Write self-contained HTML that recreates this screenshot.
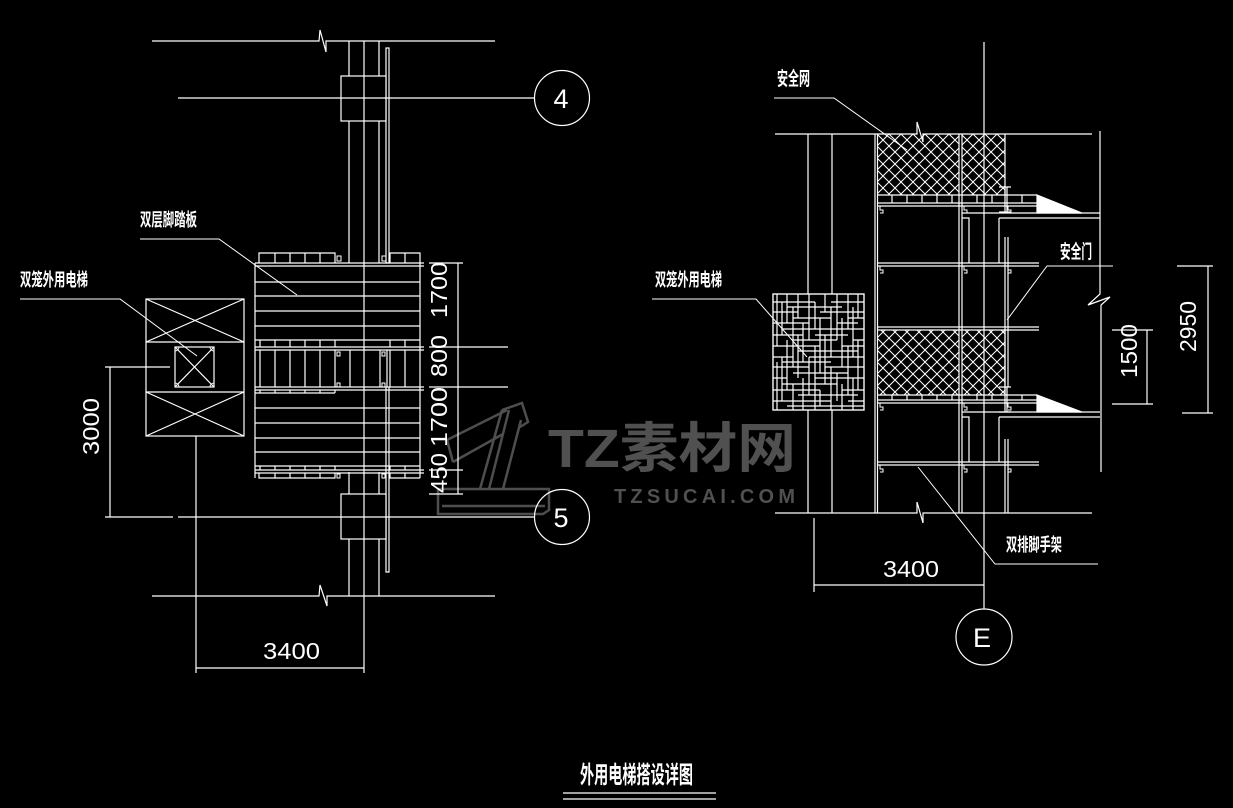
<!DOCTYPE html>
<html><head><meta charset="utf-8"><style>
html,body{margin:0;padding:0;background:#000;}
svg{display:block;}
.c{font-family:"Liberation Sans","Noto Sans CJK SC",sans-serif;font-weight:bold;fill:#fff;}
.n{font-family:"Liberation Sans",sans-serif;fill:#fff;}
</style></head><body>
<svg width="1233" height="808" viewBox="0 0 1233 808" xmlns="http://www.w3.org/2000/svg">
<defs>
<pattern id="net" patternUnits="userSpaceOnUse" width="12" height="12" x="877" y="134">
<path d="M0,0L12,12M12,0L0,12" stroke="#fff" stroke-width="1" fill="none"/>
</pattern>
</defs>
<rect width="1233" height="808" fill="#000"/>

<!-- watermark -->
<g stroke="#4e4e4e" stroke-width="2.5" fill="none">
<path d="M438,489H549V510L543,514H438Z"/>
<path d="M442,506H545"/>
<path d="M480,489L502,410M489,489L509,410M503,489L521,420"/>
<path d="M502,410L522,403L528,422L520,427"/>
<path d="M447,440L507,410M453,462L503,434M447,440L453,462"/>
</g>
<text x="548" y="467" font-family="Liberation Sans,'Noto Sans CJK SC',sans-serif" font-weight="bold" font-size="54" fill="#505050" textLength="248" lengthAdjust="spacingAndGlyphs">TZ素材网</text>
<text x="614" y="503" font-family="Liberation Sans,sans-serif" font-weight="bold" font-size="20" fill="#505050" textLength="181" lengthAdjust="spacing">TZSUCAI.COM</text>

<g stroke="#fff" stroke-width="1.2" fill="none">
<!-- ===== LEFT PLAN ===== -->
<polyline points="152,41 319,41 320,30 326,52 326,41 495,41"/>
<polyline points="152,596 319,596 320,585 327,606 327,596 495,596"/>
<line x1="178" y1="98" x2="535" y2="98"/>
<line x1="178" y1="517" x2="535" y2="517"/>
<circle cx="562" cy="98" r="27.5"/>
<circle cx="562" cy="517" r="27.5"/>
<!-- column -->
<line x1="364" y1="41" x2="364" y2="673"/>
<line x1="349" y1="41" x2="349" y2="263"/>
<line x1="379" y1="41" x2="379" y2="263"/>
<line x1="349" y1="472" x2="349" y2="596"/>
<line x1="379" y1="472" x2="379" y2="596"/>
<rect x="386" y="48" width="3" height="215"/>
<path d="M386,387V572H389V387"/>
<rect x="341" y="76" width="45" height="45" fill="#000"/>
<line x1="364" y1="76" x2="364" y2="121"/>
<line x1="341" y1="98" x2="386" y2="98"/>
<rect x="341" y="494" width="45" height="45" fill="#000"/>
<line x1="364" y1="494" x2="364" y2="539"/>
<line x1="341" y1="517" x2="386" y2="517"/>
<!-- platform -->
<path d="M259,263V253H335V263M275,253V263M290,253V263M305,253V263M320,253V263"/>
<path d="M390,263V253H420V263M405,253V263"/>
<line x1="255" y1="263" x2="424" y2="263"/><line x1="255" y1="266" x2="424" y2="266"/>
<line x1="255" y1="263" x2="255" y2="478"/><line x1="420" y1="263" x2="420" y2="478"/>
<line x1="255" y1="282" x2="420" y2="282"/>
<line x1="255" y1="296" x2="420" y2="296"/>
<line x1="255" y1="311" x2="420" y2="311"/>
<line x1="255" y1="326" x2="420" y2="326"/>
<line x1="255" y1="340" x2="420" y2="340"/>
<path d="M260,340V347M275,340V347M290,340V347M305,340V347M320,340V347M335,340V347M390,340V347M405,340V347"/>
<line x1="255" y1="347" x2="424" y2="347"/><line x1="255" y1="350" x2="424" y2="350"/>
<path d="M260,350V387M275,350V387M290,350V387M305,350V387M320,350V387M335,350V387M350,350V387M380,350V387M387,350V387M390,350V387M405,350V387"/>
<line x1="255" y1="387" x2="424" y2="387"/><line x1="255" y1="390" x2="424" y2="390"/>
<path d="M255,393H335M260,390V393M275,390V393M290,390V393M305,390V393M320,390V393M335,390V393"/>
<line x1="255" y1="408" x2="420" y2="408"/>
<line x1="255" y1="423" x2="420" y2="423"/>
<line x1="255" y1="438" x2="420" y2="438"/>
<line x1="255" y1="452" x2="420" y2="452"/>
<line x1="255" y1="466" x2="420" y2="466"/>
<path d="M260,466V470M275,466V470M290,466V470M305,466V470M320,466V470M335,466V470M390,466V470M405,466V470"/>
<line x1="255" y1="470" x2="424" y2="470"/><line x1="255" y1="473" x2="424" y2="473"/>
<path d="M259,473V478H335V473M275,473V478M290,473V478M305,473V478M320,473V478"/>
<path d="M390,473V478H420M405,473V478"/>
<!-- hooks -->
<path d="M337,256h4v5h-4zM382,256h4v5h-4zM337,352h3v4h-3zM382,352h3v4h-3zM337,383h3v4h-3zM382,383h3v4h-3zM337,474h3v4h-3zM382,474h3v4h-3z" stroke-width="1"/>
<!-- right dims -->
<line x1="458" y1="263" x2="458" y2="494"/>
<line x1="429" y1="263" x2="463" y2="263"/>
<line x1="429" y1="347" x2="508" y2="347"/>
<line x1="429" y1="387" x2="508" y2="387"/>
<line x1="429" y1="470" x2="463" y2="470"/>
<line x1="429" y1="494" x2="463" y2="494"/>
<!-- elevator plan -->
<rect x="146" y="299" width="98" height="137"/>
<line x1="146" y1="342" x2="244" y2="342"/>
<line x1="146" y1="392" x2="244" y2="392"/>
<path d="M146,299L244,342M146,342L244,299M146,392L244,436M146,436L244,392"/>
<rect x="175" y="347" width="39" height="40"/>
<path d="M175,347L214,387M214,347L175,387"/>
<path d="M175,351a4,4 0 0 0 4,-4M210,347a4,4 0 0 0 4,4M214,383a4,4 0 0 0 -4,4M179,387a4,4 0 0 0 -4,-4" stroke-width="1"/>
<!-- 3000 dim -->
<line x1="110" y1="367" x2="110" y2="517"/>
<line x1="105" y1="367" x2="170" y2="367"/>
<line x1="105" y1="517" x2="173" y2="517"/>
<!-- 3400 dim -->
<line x1="196" y1="436" x2="196" y2="673"/>
<line x1="196" y1="668" x2="364" y2="668"/>
<!-- leaders -->
<polyline points="140,239 219,239 297,295" stroke-width="1"/>
<polyline points="20,299 120,299 197,356" stroke-width="1"/>

<!-- ===== RIGHT ELEVATION ===== -->
<polyline points="775,134 917,134 917,122 923,142 923,134 1092,134"/>
<polyline points="775,513 917,513 917,502 923,523 923,513 1092,513"/>
<line x1="984" y1="42" x2="984" y2="609"/>
<circle cx="984" cy="637" r="28"/>
<line x1="808" y1="134" x2="808" y2="513"/>
<line x1="832" y1="134" x2="832" y2="513"/>
<line x1="875" y1="134" x2="875" y2="513"/>
<line x1="877.5" y1="134" x2="877.5" y2="513"/>
<line x1="959" y1="134" x2="959" y2="513"/>
<line x1="962" y1="134" x2="962" y2="513"/>
<!-- nets -->
<rect x="877.5" y="134" width="81.5" height="61" fill="url(#net)" stroke="none"/>
<rect x="962" y="134" width="43" height="61" fill="url(#net)" stroke="none"/>
<line x1="1005" y1="134" x2="1005" y2="195"/>
<rect x="877.5" y="330" width="81.5" height="65" fill="url(#net)" stroke="none"/>
<rect x="962" y="330" width="43" height="65" fill="url(#net)" stroke="none"/>
<line x1="1005" y1="330" x2="1005" y2="395"/>
<!-- planks top -->
<line x1="877" y1="195" x2="1037" y2="195"/>
<line x1="877" y1="203" x2="1037" y2="203"/>
<line x1="877" y1="206" x2="1037" y2="206"/>
<path d="M892,195V203M907,195V203M922,195V203M937,195V203M952,195V203M977,195V203M992,195V203M1022,195V203"/>
<line x1="962" y1="213" x2="1100" y2="213"/>
<line x1="999" y1="218" x2="1100" y2="218"/>
<polyline points="962,218 969,218 969,263"/>
<line x1="999" y1="218" x2="999" y2="263"/>
<polygon points="1037,195 1037,213 1082,213" fill="#fff"/>
<!-- planks bottom -->
<line x1="877" y1="395" x2="1037" y2="395"/>
<line x1="877" y1="400" x2="1037" y2="400"/>
<line x1="877" y1="403" x2="1037" y2="403"/>
<path d="M892,395V400M907,395V400M922,395V400M937,395V400M952,395V400M977,395V400M992,395V400M1022,395V400"/>
<line x1="962" y1="412" x2="1100" y2="412"/>
<line x1="999" y1="417" x2="1100" y2="417"/>
<polyline points="962,417 969,417 969,462"/>
<line x1="999" y1="417" x2="999" y2="462"/>
<polygon points="1037,395 1037,412 1082,412" fill="#fff"/>
<!-- ledgers -->
<line x1="877" y1="263" x2="1039" y2="263"/><line x1="877" y1="266" x2="1039" y2="266"/>
<line x1="877" y1="327" x2="1039" y2="327"/><line x1="877" y1="330" x2="1039" y2="330"/>
<line x1="877" y1="462" x2="1039" y2="462"/><line x1="877" y1="465" x2="1039" y2="465"/>
<!-- hooks -->
<path d="M880,206v4h3v3h-3M964,206v4h3v3h-3M1008,206v4h3v3h-3M880,266v4h3v3h-3M964,266v4h3v3h-3M1008,266v4h3v3h-3M880,403v4h3v3h-3M964,403v4h3v3h-3M1008,403v4h3v3h-3M880,465v4h3v3h-3M964,465v4h3v3h-3M1008,465v4h3v3h-3" stroke-width="1"/>
<!-- door post -->
<path d="M999,187H1011M999,212H1011M1005,187V212M1007,187V212"/>
<path d="M1005,237V387M1008,237V387"/>
<path d="M999,387H1011M999,412H1011M1005,387V412M1007,387V412"/>
<path d="M1005,439V513M1008,439V513"/>
<!-- right edge -->
<polyline points="1100,131 1100,294 1088,305 1110,297 1101,305 1101,472"/>
<!-- cage -->
<rect x="773" y="294" width="91" height="116" fill="#000"/>
<path d="M773,302H815M831,302H864M787,307H842M773,312H798M820,312H864M793,318H831M848,318H864M773,323H809M837,323H858M782,329H864M773,335H803M815,335H848M793,340H837M853,340H864M773,346H820M842,346H864M798,351H858M773,357H793M809,357H864M782,362H831M773,367H809M825,367H864M793,373H848M773,378H787M815,378H864M782,384H837M773,390H820M842,390H864M798,395H858M773,401H831M848,401H864M787,406H864"/>
<path d="M777,294V346M777,362V410M782,302V335M782,357V401M787,294V323M787,340V390M793,307V367M793,384V410M798,294V318M798,335V378M803,323V362M803,378V410M809,294V340M809,357V395M815,302V329M815,346V410M820,318V373M820,390V406M825,294V312M825,335V384M831,307V357M831,367V410M837,294V340M837,373V401M842,318V367M842,384V410M848,294V329M848,346V395M853,307V357M853,378V410M858,294V318M858,340V390"/>
<rect x="773" y="294" width="91" height="116"/>
<!-- dims right -->
<line x1="814" y1="518" x2="814" y2="592"/>
<line x1="814" y1="585" x2="984" y2="585"/>
<line x1="1147" y1="330" x2="1147" y2="404"/>
<line x1="1112" y1="330" x2="1153" y2="330"/>
<line x1="1112" y1="404" x2="1153" y2="404"/>
<line x1="1208" y1="266" x2="1208" y2="413"/>
<line x1="1177" y1="266" x2="1213" y2="266"/>
<line x1="1182" y1="413" x2="1213" y2="413"/>
<!-- leaders -->
<polyline points="774,98 834,98 907,150" stroke-width="1"/>
<polyline points="1113,266 1047,266 1007,320" stroke-width="1"/>
<polyline points="1098,564 995,564 918,467" stroke-width="1"/>
<polyline points="652,299 756,299 807,357" stroke-width="1"/>
<!-- title underline -->
<line x1="563" y1="793" x2="716" y2="793"/>
<line x1="563" y1="799" x2="716" y2="799"/>
</g>

<!-- CJK labels -->
<text class="c" x="140" y="226" font-size="18" textLength="57" lengthAdjust="spacingAndGlyphs">双层脚踏板</text>
<text class="c" x="20" y="286" font-size="18" textLength="68" lengthAdjust="spacingAndGlyphs">双笼外用电梯</text>
<text class="c" x="655" y="286" font-size="18" textLength="67" lengthAdjust="spacingAndGlyphs">双笼外用电梯</text>
<text class="c" x="777" y="85" font-size="19" textLength="33" lengthAdjust="spacingAndGlyphs">安全网</text>
<text class="c" x="1060" y="258" font-size="19" textLength="32" lengthAdjust="spacingAndGlyphs">安全门</text>
<text class="c" x="1006" y="551" font-size="18" textLength="56" lengthAdjust="spacingAndGlyphs">双排脚手架</text>
<text class="c" x="580" y="783" font-size="24" textLength="113" lengthAdjust="spacingAndGlyphs">外用电梯搭设详图</text>

<!-- numbers -->
<text class="n" x="561" y="108" font-size="27" text-anchor="middle">4</text>
<text class="n" x="561" y="527" font-size="27" text-anchor="middle">5</text>
<text class="n" x="982" y="647" font-size="27" text-anchor="middle">E</text>
<text class="n" x="263" y="659" font-size="23" textLength="57" lengthAdjust="spacingAndGlyphs">3400</text>
<text class="n" x="883" y="577" font-size="23" textLength="56" lengthAdjust="spacingAndGlyphs">3400</text>
<g font-size="23">
<text class="n" transform="translate(447,318) rotate(-90)" textLength="56" lengthAdjust="spacingAndGlyphs">1700</text>
<text class="n" transform="translate(447,377) rotate(-90)" textLength="42" lengthAdjust="spacingAndGlyphs">800</text>
<text class="n" transform="translate(447,447) rotate(-90)" textLength="60" lengthAdjust="spacingAndGlyphs">1700</text>
<text class="n" transform="translate(447,493) rotate(-90)" textLength="40" lengthAdjust="spacingAndGlyphs">450</text>
<text class="n" transform="translate(99,455) rotate(-90)" textLength="57" lengthAdjust="spacingAndGlyphs">3000</text>
<text class="n" transform="translate(1137,378) rotate(-90)" textLength="54" lengthAdjust="spacingAndGlyphs">1500</text>
<text class="n" transform="translate(1196,352) rotate(-90)" textLength="51" lengthAdjust="spacingAndGlyphs">2950</text>
</g>
</svg>
</body></html>
